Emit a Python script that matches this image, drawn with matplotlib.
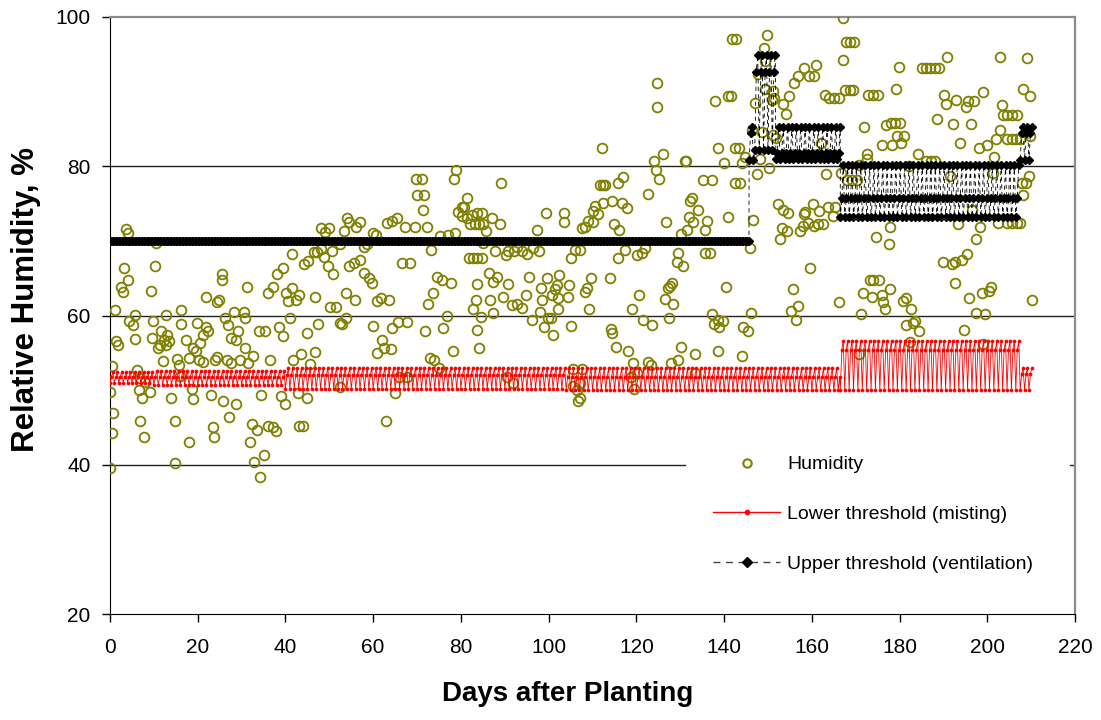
import numpy as np
import matplotlib.pyplot as plt
from matplotlib.lines import Line2D

# Humidity readings (day after planting, relative humidity %)
hum_days = [
    0.0, 0.0, 0.4, 0.4, 0.8, 1.1, 1.4, 1.9, 2.4, 2.9, 3.2, 3.6, 4.2, 4.0, 4.4, 5.3, 5.7, 5.7, 6.1, 6.8,
    6.5, 7.4, 8.0, 9.1, 6.8, 7.8, 9.3, 9.7, 9.5, 10.3, 10.6, 11.0, 11.4, 11.6, 12.0, 12.2, 12.8, 12.8, 12.9, 13.5,
    13.9, 14.8, 14.8,
    15.2, 15.8, 15.9, 16.3, 16.3, 17.3, 18.1, 18.6, 19.0, 18.1, 19.0, 19.6, 19.9, 20.4, 20.5, 21.3, 21.3, 21.9, 22.0, 22.4,
    23.0, 23.4, 23.8, 23.9, 24.3, 24.5, 24.9, 25.5, 25.5, 25.8, 26.2, 26.6, 27.0, 27.1, 27.5, 27.7, 28.3, 28.7, 28.7, 29.1,
    29.6,
    30.6, 30.8, 30.8, 31.2, 31.5, 31.9, 32.3, 32.5, 32.8, 33.6, 34.0, 34.2, 34.4, 35.0, 35.3, 36.1, 36.1, 36.5, 37.1, 37.2,
    37.8, 38.1, 38.6, 38.9, 39.4, 39.4, 39.9, 40.1, 40.6, 41.0, 41.4, 41.4, 41.8, 42.5, 42.8, 43.2, 43.2, 43.5, 44.0, 44.2,
    44.8, 44.8,
    45.2, 45.6, 46.4, 46.7, 46.7, 47.1, 47.5, 48.2, 48.2, 48.8, 49.0, 49.8, 50.0, 50.1, 50.5, 50.9, 51.6, 52.4, 52.4, 52.4,
    52.8, 53.4, 53.8, 53.8, 54.0, 54.4, 54.6, 55.6, 55.9, 56.1, 57.0, 57.0, 57.8, 57.8, 58.5, 59.1, 59.7, 59.9,
    60.0, 60.6, 60.8, 60.8, 61.7, 61.9, 62.5, 62.9, 63.1, 63.7, 64.1, 64.2, 64.4, 65.0, 65.4, 65.7, 66.0, 66.5, 67.3, 67.6,
    67.6, 68.5, 69.5, 69.8, 70.1, 71.1, 71.4, 71.6, 71.8, 72.3, 72.6, 73.0, 73.1, 73.6, 73.9, 74.6,
    75.1, 75.2, 75.6, 76.0, 76.8, 77.1, 77.7, 78.1, 78.4, 78.7, 78.8, 79.4, 80.2, 80.2, 80.7, 81.3, 81.3, 81.9, 82.1, 82.5,
    82.8, 82.8, 83.2, 83.4, 83.6, 83.7, 83.7, 83.7, 84.2, 84.2, 84.5, 84.7, 84.7, 85.1, 85.1, 85.7, 86.3, 86.6, 87.0, 87.4,
    87.4, 87.8, 88.2, 88.8, 89.1, 89.5,
    90.3, 90.4, 90.8, 90.8, 91.6, 91.9, 92.0, 92.7, 92.7, 93.9, 93.9, 94.8, 95.0, 95.6, 96.1, 96.5, 97.3, 97.9, 98.0, 98.3,
    98.6, 99.0, 99.4, 99.7, 99.9, 100.5, 100.7, 101.1, 101.5, 101.8, 102.2, 102.2, 102.4, 103.4, 103.4, 104.3, 104.7, 105.0,
    105.1, 105.5, 105.6, 106.0, 106.4, 106.8, 107.2,
    107.5, 108.3, 109.0, 107.2, 107.5, 107.2, 108.3, 108.7, 109.7, 109.2, 110.2, 110.2, 110.6, 111.3, 111.6, 112.3, 112.9,
    112.1, 112.5, 113.9, 114.2, 114.5, 114.4, 114.9, 115.4, 115.7, 115.9, 116.1, 116.7, 117.0, 117.4, 117.8, 118.2, 118.7,
    119.1, 119.3, 119.5, 120.1,
    120.1, 120.7, 121.2, 121.6, 122.0, 122.7, 122.7, 123.3, 123.5, 124.0, 124.5, 124.8, 124.8, 125.2, 126.0, 126.5, 126.8,
    127.1, 127.5, 127.7, 127.8, 128.2, 128.4, 129.2, 129.4, 129.6, 130.1, 130.2, 130.6, 131.1, 131.3, 131.6, 131.9, 132.2,
    132.6, 133.0, 133.4, 133.4, 134.1, 135.1, 135.7, 135.7, 136.0, 136.8, 137.2, 137.2, 137.6, 137.9, 138.5, 138.7, 138.7,
    138.9, 139.7, 140.0, 140.4, 140.8, 141.0, 141.6, 141.9, 142.6, 142.5, 142.5, 143.5, 143.6, 144.0, 144.0, 144.4, 144.8,
    145.4, 145.8, 146.1, 146.3, 146.7,
    147.1, 147.4, 147.8, 148.2, 148.6, 149.1, 149.3, 149.3, 149.8, 150.3, 150.9, 151.1, 151.4, 151.2, 151.8, 152.4, 152.8,
    153.1, 153.4, 153.5, 154.0, 154.4, 154.6, 154.9, 155.2, 155.6, 156.0, 156.4, 156.9, 156.9, 157.3, 157.9, 158.2, 158.2,
    158.5, 159.2, 159.4, 159.6, 160.2, 160.4, 160.4, 161.0, 161.5, 161.7, 162.0, 162.6, 163.0, 163.2, 163.8, 164.0, 164.8,
    165.1, 165.3, 166.1, 166.3, 166.6,
    167.0, 167.0, 167.6, 167.8, 168.1, 168.6, 168.7, 169.1, 169.5, 169.6, 170.2, 170.8, 170.8, 171.2, 171.6, 172.0, 172.5,
    172.5, 172.7, 173.3, 173.7, 173.9, 174.0, 174.6, 175.0, 175.2, 176.0, 176.1, 176.3, 176.7, 176.9, 177.5, 177.8, 177.8,
    178.0, 178.2, 179.0, 179.1, 179.5, 179.9, 180.0, 180.3, 180.7, 181.0, 181.5, 181.5, 182.2, 182.3, 182.6, 183.0, 183.5,
    184.1, 184.5, 185.1, 186.0, 186.0, 187.0, 187.1, 188.0, 188.1, 188.5, 188.9, 189.8, 190.2, 190.6, 190.9, 191.4, 191.9,
    192.1, 192.7, 192.7, 192.9, 193.4, 193.8, 194.2, 194.7, 195.2, 195.3, 195.7, 195.9, 196.3, 196.5, 197.0, 197.4, 197.4,
    198.0, 198.4, 198.7, 199.1, 199.1, 199.5, 200.0, 200.3, 200.8, 201.2, 201.5, 202.0, 202.5, 202.8, 202.9, 203.3, 203.5,
    204.4, 204.4, 204.6, 205.6, 205.6, 205.6, 206.6, 206.7, 206.7, 207.5, 207.5, 207.9, 208.1, 208.2, 208.8, 209.0, 209.5,
    209.8, 209.8, 210.2,
]
hum_vals = [
    39.6, 49.7, 53.2, 44.3, 47.0, 60.8, 56.6, 56.1, 63.8, 63.1, 66.4, 71.6, 71.1, 64.7, 59.2, 58.7, 60.1, 56.8, 52.7, 51.6,
    50.0, 49.0, 51.1, 49.7, 45.9, 43.7, 63.3, 59.2, 57.0, 66.7, 69.7, 55.6, 56.0, 57.9, 53.9, 56.7, 60.1, 56.1, 57.4, 56.6,
    49.0, 45.9, 40.3,
    54.2, 53.4, 51.9, 60.8, 58.9, 56.7, 54.3, 50.1, 48.8, 43.0, 55.7, 55.2, 59.0, 54.0, 56.3, 57.4, 53.8, 58.5, 62.5, 57.9,
    49.3, 45.1, 43.7, 54.0, 54.4, 61.8, 62.1, 65.5, 64.7, 48.5, 59.6, 54.1, 58.7, 46.4, 57.0, 53.6, 60.5, 56.7, 48.1, 57.9,
    54.0,
    60.5, 59.6, 55.7, 63.8, 53.6, 43.0, 45.5, 54.6, 40.4, 44.7, 57.9, 38.4, 49.3, 41.3, 57.9, 63.0, 45.2, 54.0, 45.1, 63.8,
    44.5, 65.5, 58.4, 49.2, 66.4, 57.2, 48.2, 63.0, 61.9, 59.6, 63.7, 68.3, 54.0, 62.1, 49.6, 62.8, 45.2, 54.8, 45.2, 66.9,
    57.7, 48.9,
    67.3, 53.5, 68.5, 62.5, 55.1, 68.5, 58.8, 68.9, 71.7, 67.9, 71.2, 66.7, 71.7, 61.1, 68.7, 65.5, 61.1, 59.0, 50.4, 69.6,
    58.9, 71.3, 63.0, 59.6, 73.0, 72.5, 66.6, 67.0, 62.1, 71.9, 72.5, 67.4, 69.2, 65.7, 69.6, 65.0, 64.4, 58.6,
    71.0, 70.8, 61.9, 55.0, 62.3, 56.7, 55.6, 45.8, 72.4, 62.1, 55.5, 72.6, 58.3, 49.6, 73.0, 59.1, 51.7, 67.1, 71.9, 59.1,
    51.7, 67.1, 71.9, 78.3, 76.1, 78.3, 74.2, 76.1, 57.9, 71.9, 61.5, 54.3, 68.8, 63.0, 54.0, 65.2,
    52.9, 70.6, 64.8, 58.3, 60.0, 70.8, 64.4, 55.2, 78.3, 71.0, 79.5, 73.9, 74.5, 73.3, 74.6, 75.8, 73.0, 67.7, 72.2, 73.5,
    67.7, 60.9, 72.2, 62.1, 73.7, 67.7, 64.2, 58.0, 72.2, 55.7, 59.8, 73.7, 67.7, 72.2, 69.7, 71.3, 65.7, 62.1, 73.0, 64.5,
    60.4, 68.6, 65.2, 72.2, 77.8, 62.5,
    68.1, 51.7, 68.7, 64.2, 61.4, 51.0, 68.6, 69.2, 61.6, 68.6, 61.0, 62.8, 68.3, 65.2, 59.4, 69.0, 71.5, 68.6, 60.5, 63.7,
    62.1, 58.4, 73.7, 65.0, 59.7, 59.6, 62.7, 57.4, 63.6, 64.1, 62.3, 60.9, 65.4, 73.7, 72.5, 62.5, 64.1, 67.7,
    58.6, 52.8, 50.6, 68.8, 50.0, 48.6, 50.9,
    71.7, 71.9, 72.6, 68.8, 52.8, 48.9, 63.2, 63.7, 65.0, 60.9, 74.0, 72.5, 74.7, 73.6, 77.5, 77.5, 77.5,
    82.4, 75.1, 65.0, 58.2, 57.6, 75.4, 72.3, 55.8, 77.8, 67.7, 71.5, 75.1, 78.5, 68.8, 74.4, 55.3, 51.7,
    60.9, 53.6, 50.1, 68.1,
    52.3, 62.8, 68.4, 59.4, 69.0, 76.3, 53.8, 53.4, 58.7, 80.7, 79.5, 91.1, 87.9, 78.3, 81.6, 62.2, 72.5,
    63.7, 59.6, 64.0, 53.7, 64.3, 61.5, 67.2, 68.4, 54.0, 70.9, 55.8, 66.6, 80.7, 80.7, 71.4, 73.2, 75.4,
    75.8, 72.5, 54.8, 52.3, 74.2, 78.2, 71.5, 68.4, 72.6, 68.4, 78.2, 60.2, 58.9, 88.7, 59.4, 82.4, 55.3,
    58.5, 59.2, 80.4, 63.8, 73.2, 89.4, 89.4, 97.1, 97.1, 82.5, 77.8, 82.5, 77.8, 80.4, 54.6, 58.5, 81.3,
    57.9, 69.1, 60.3, 84.9, 72.8,
    88.5, 79.0, 92.4, 81.0, 84.6, 95.9, 94.1, 90.3, 97.6, 79.7, 88.9, 90.1, 89.2, 84.2, 83.8, 74.9, 70.2,
    71.7, 88.3, 74.2, 87.0, 71.3, 73.7, 89.4, 60.6, 63.5, 91.2, 59.4, 61.3, 92.1, 71.3, 72.0, 93.1, 73.6,
    73.9, 72.4, 92.1, 66.4, 74.9, 92.1, 72.0, 93.6, 72.2, 74.0, 83.1, 72.2, 89.5, 78.9, 74.5, 89.2, 73.4,
    89.2, 74.6, 89.2, 61.8, 79.1,
    99.8, 94.2, 90.2, 96.6, 78.1, 90.2, 96.6, 78.1, 90.2, 96.6, 78.1, 80.2, 54.8, 60.2, 63.0, 85.3, 81.7,
    81.0, 89.6, 64.8, 62.5, 89.6, 64.8, 70.5, 89.6, 64.8, 62.7, 82.9, 61.8, 60.9, 85.5, 69.6, 71.9, 63.5,
    85.8, 82.9, 85.8, 90.4, 84.1, 93.3, 85.8, 83.1, 61.9, 84.1, 62.3, 58.7, 80.0, 56.5, 60.9, 59.0, 59.3,
    81.7, 57.9, 93.1, 93.1, 80.7, 93.1, 80.7, 93.1, 80.7, 86.3, 93.1, 67.2, 89.5, 88.4, 94.7, 78.7, 66.9,
    85.7, 67.2, 64.3, 88.9, 72.3, 83.1, 67.4, 58.0, 88.0, 68.3, 88.7, 62.3, 85.7, 74.1, 88.7, 70.3, 60.4,
    82.5, 71.9, 63.0, 89.9, 56.2, 60.2, 82.9, 63.3, 63.8, 79.1, 81.3, 83.7, 72.4, 94.7, 84.8, 88.2, 86.9,
    83.6, 72.4, 86.9, 86.9, 83.6, 72.4, 83.6, 86.9, 72.4, 83.6, 72.4, 77.8, 90.4, 76.1, 77.8, 94.5, 78.7,
    89.4, 84.1, 62.1,
]

# Setpoint schedules: segment start/end day and daily low / mid / high setpoints
low_start = [0, 10, 40, 104, 166.5, 207.5]
low_end = [10, 40, 104, 166.5, 207.5, 210.5]
low_lo = [51.0, 50.7, 50.2, 50.0, 50.0, 50.0]
low_mid = [51.8, 51.8, 52.0, 51.8, 55.4, 52.2]
low_hi = [52.4, 52.6, 53.0, 52.9, 56.6, 52.9]

up_start = [0, 145.7, 147.0, 151.8, 166.5, 207.5]
up_end = [145.7, 147.0, 151.8, 166.5, 207.5, 210.5]
up_lo = [70.0, 80.8, 82.2, 81.0, 73.2, 80.8]
up_mid = [70.0, 84.4, 92.6, 81.8, 75.7, 84.4]
up_hi = [70.0, 85.2, 94.9, 85.2, 80.2, 85.2]


def schedule(starts, ends, lo, mid, hi):
    # three readings a day: low, mid, high
    xs, ys = [], []
    for s, e, a, b, c in zip(starts, ends, lo, mid, hi):
        for d in np.arange(s, e, 1.0):
            for off, v in zip([0, 1 / 3, 2 / 3], [a, b, c]):
                if d + off < e:
                    xs.append(d + off)
                    ys.append(v)
    return np.array(xs), np.array(ys)


low_x, low_y = schedule(low_start, low_end, low_lo, low_mid, low_hi)
up_x, up_y = schedule(up_start, up_end, up_lo, up_mid, up_hi)

plt.rcParams['font.family'] = ['Liberation Sans', 'DejaVu Sans']

fig = plt.figure(figsize=(11.01, 7.2), dpi=100)
ax = fig.add_axes([0.0999, 0.1472, 0.8765, 0.8292])

olive = '#808000'
ax.plot(hum_days, hum_vals, linestyle='none', marker='o', markersize=7,
        markerfacecolor='none', markeredgecolor=olive, markeredgewidth=1.3, zorder=3)
ax.plot(low_x, low_y, color='red', linewidth=0.6, marker='o', markersize=2.2,
        markeredgewidth=0.5, zorder=4)
ax.plot(up_x, up_y, color='black', linewidth=0.6, linestyle=(0, (5, 4)),
        marker='D', markersize=4.0, zorder=5)

ax.set_xlim(0, 220)
ax.set_ylim(20, 100)
ax.set_xticks(range(0, 221, 20))
ax.set_yticks(range(20, 101, 20))
# gridlines; the 40 line is broken where the legend sits
ax.axhline(80, color='#222222', linewidth=1.0, zorder=1)
ax.axhline(60, color='#222222', linewidth=1.0, zorder=1)
ax.axhline(40, xmin=0, xmax=0.596, color='#222222', linewidth=1.0, zorder=1)
ax.axhline(40, xmin=0.995, xmax=1, color='#222222', linewidth=1.0, zorder=1)

ax.tick_params(axis='both', direction='out', length=6, width=1, labelsize=15)
ax.tick_params(axis='x', pad=11)
ax.tick_params(axis='y', pad=8)

ax.spines['left'].set_color('black')
ax.spines['bottom'].set_color('black')
ax.spines['top'].set_color('#8c8c8c')
ax.spines['right'].set_color('#8c8c8c')
ax.spines['top'].set_linewidth(1.6)
ax.spines['right'].set_linewidth(1.6)

ax.set_xlabel('Days after Planting', fontsize=20, fontweight='bold')
ax.set_ylabel('Relative Humidity, %', fontsize=22.5, fontweight='bold')
ax.xaxis.set_label_coords(0.474, -0.112)
ax.yaxis.set_label_coords(-0.0715, 0.526)

handles = [
    Line2D([], [], linestyle='none', marker='o', markersize=6, markerfacecolor='none',
           markeredgecolor=olive, markeredgewidth=1.5),
    Line2D([], [], color='red', linewidth=1.0, marker='o', markersize=3),
    Line2D([], [], color='#444444', linewidth=1.0, linestyle=(0, (5, 4)),
           marker='D', markersize=5, markerfacecolor='black', markeredgecolor='black'),
]
labels = ['Humidity', 'Lower threshold (misting)', 'Upper threshold (ventilation)']
leg = ax.legend(handles, labels, loc='upper left', bbox_to_anchor=(0.6249, 0.265),
                fontsize=14, frameon=False, handlelength=3.45, handletextpad=0.36,
                labelspacing=1.65, borderpad=0, borderaxespad=0)

fig.savefig('out.png', dpi=100)
